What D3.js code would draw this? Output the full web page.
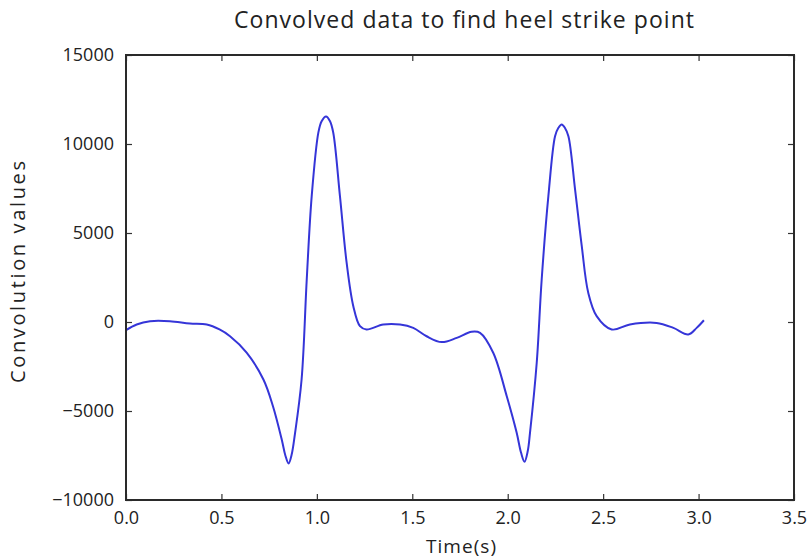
<!DOCTYPE html>
<html>
<head>
<meta charset="utf-8">
<script src="https://cdn.jsdelivr.net/npm/d3@7"></script>
<style>
  html, body { margin: 0; padding: 0; background: #fff; }
  svg { display: block; }
  text { font-family: "Open Sans", "DejaVu Sans", sans-serif; fill: #222; }
</style>
</head>
<body>
<svg id="chart" width="810" height="560"></svg>
<script>
const title = "Convolved data to find heel strike point";
const xLabel = "Time(s)";
const yLabel = "Convolution values";
const xTicks = [0.0, 0.5, 1.0, 1.5, 2.0, 2.5, 3.0, 3.5];
const yTicks = [-10000, -5000, 0, 5000, 10000, 15000];
const timeValues = [0.00, 0.056, 0.126, 0.23, 0.335, 0.423, 0.49, 0.545, 0.632, 0.72, 0.77, 0.816, 0.835, 0.852, 0.868, 0.885, 0.92, 0.947, 0.973, 1.008, 1.025, 1.048, 1.069, 1.086, 1.121, 1.156, 1.191, 1.226, 1.26, 1.348, 1.436, 1.505, 1.575, 1.654, 1.733, 1.811, 1.855, 1.924, 1.995, 2.047, 2.07, 2.088, 2.105, 2.117, 2.152, 2.178, 2.213, 2.248, 2.265, 2.283, 2.3, 2.318, 2.353, 2.388, 2.422, 2.466, 2.545, 2.64, 2.78, 2.868, 2.946, 2.99, 3.028];
const convValues = [-460, -140, 45, 45, -85, -140, -420, -800, -1720, -3230, -4730, -6600, -7500, -7950, -7450, -6300, -3230, 2390, 7070, 10650, 11280, 11550, 11280, 10630, 7070, 3330, 890, -235, -420, -140, -140, -330, -800, -1130, -890, -550, -610, -1730, -4170, -6220, -7350, -7850, -7250, -6200, -2290, 2390, 7070, 10440, 10900, 11100, 10900, 10440, 7440, 4260, 1640, 330, -420, -140, -50, -330, -700, -330, 100];

const svg = d3.select("#chart");
const margin = {left: 126, right: 16, top: 55, bottom: 60};
const W = 810, H = 560;
const x = d3.scaleLinear().domain([0, 3.5]).range([margin.left, W - margin.right]);
const y = d3.scaleLinear().domain([-10000, 15000]).range([H - margin.bottom, margin.top]);

const data = timeValues.map((t, i) => ({t, v: convValues[i]}));

svg.append("path")
  .datum(data)
  .attr("fill", "none")
  .attr("stroke", "#3535d8")
  .attr("stroke-width", 2)
  .attr("d", d3.line().x(d => x(d.t)).y(d => y(d.v)).curve(d3.curveCatmullRom.alpha(0.5)));

const tickLen = 6;
const xb = svg.append("g").attr("transform", `translate(0,${y(-10000)})`)
  .call(d3.axisBottom(x).tickValues(xTicks).tickFormat(d3.format(".1f")).tickSizeInner(-tickLen).tickSizeOuter(0).tickPadding(11));
const xt = svg.append("g").attr("transform", `translate(0,${y(15000)})`)
  .call(d3.axisTop(x).tickValues(xTicks).tickFormat("").tickSizeInner(-tickLen).tickSizeOuter(0));
const yl = svg.append("g").attr("transform", `translate(${x(0)},0)`)
  .call(d3.axisLeft(y).tickValues(yTicks).tickFormat(d => d < 0 ? "\u2212" + Math.abs(d) : String(d)).tickSizeInner(-tickLen).tickSizeOuter(0).tickPadding(12));
const yr = svg.append("g").attr("transform", `translate(${x(3.5)},0)`)
  .call(d3.axisRight(y).tickValues(yTicks).tickFormat("").tickSizeInner(-tickLen).tickSizeOuter(0));

[xb, xt, yl, yr].forEach(g => {
  g.select(".domain").remove();
  g.selectAll(".tick line").attr("stroke", "#333").attr("stroke-width", 1.2);
  g.selectAll(".tick text").attr("font-size", 18).attr("fill", "#222").style("font-family", '"Open Sans", sans-serif');
});

svg.append("rect")
  .attr("x", x(0)).attr("y", y(15000))
  .attr("width", x(3.5) - x(0)).attr("height", y(-10000) - y(15000))
  .attr("fill", "none").attr("stroke", "#2a2a2a").attr("stroke-width", 2);

svg.append("text").attr("x", 464).attr("y", 28).attr("text-anchor", "middle")
  .attr("font-size", 23).attr("textLength", 460).attr("lengthAdjust", "spacing").text(title);
svg.append("text").attr("x", 461).attr("y", 553).attr("text-anchor", "middle")
  .attr("font-size", 19).attr("textLength", 70).attr("lengthAdjust", "spacing").text(xLabel);
svg.append("text").attr("transform", `translate(25,${272}) rotate(-90)`)
  .attr("text-anchor", "middle").attr("font-size", 20).attr("textLength", 222).attr("lengthAdjust", "spacing").text(yLabel);
</script>
</body>
</html>
